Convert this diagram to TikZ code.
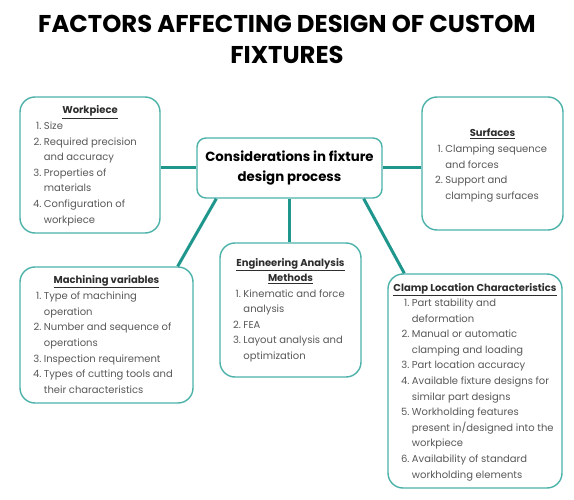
\documentclass[tikz,border=0pt]{standalone}
\usepackage{fontspec}
\setmainfont{Poppins}
\usetikzlibrary{positioning}

\definecolor{tealline}{HTML}{1F968C}
\definecolor{tealbox}{HTML}{4CB2A9}
\definecolor{bodygray}{HTML}{595959}
\definecolor{headgray}{HTML}{2E2E2E}

% box text: width, height, top skip, heading, list rows
\newcommand{\boxtext}[5]{\parbox[c][#2][t]{#1}{%
	\fontsize{10}{15.6}\selectfont\centering\bfseries\color{headgray}%
	\rule{0pt}{#3}#4\par
	\raggedright\mdseries\color{bodygray}%
	\hspace*{13pt}\begin{tabular}[t]{@{}r@{\hspace{2.5pt}}l@{}}#5\end{tabular}\par}}

\begin{document}
\begin{tikzpicture}[x=1pt, y=-1pt,
		box/.style={draw=tealbox, line width=1.4pt, rounded corners=15pt, inner sep=0pt, fill=white},
		mainbox/.style={draw=tealbox, line width=1.4pt, rounded corners=9pt, inner sep=0pt,
			minimum width=185pt, minimum height=60pt, align=center, fill=white},
		link/.style={draw=tealline, line width=3pt}]
	\useasboundingbox (0,0) rectangle (574,500);

	\node[align=center, font=\fontsize{24.3}{31}\selectfont\bfseries] (title) at (287,39)
		{FACTORS AFFECTING DESIGN OF CUSTOM\\FIXTURES};

	\node[mainbox, font=\fontsize{13.3}{20}\selectfont\bfseries] (design) at (289.5,168)
		{Considerations in fixture\\design process};

	\node[box] (work) at (90,165) {\boxtext{140pt}{136pt}{17pt}{\underline{Workpiece}}{%
		1.&Size\\
		2.&Required precision\\
		&and accuracy\\
		3.&Properties of\\
		&materials\\
		4.&Configuration of\\
		&workpiece}};

	\node[box] (surf) at (492.5,163.5) {\boxtext{141pt}{133pt}{40pt}{\underline{Surfaces}}{%
		1.&Clamping sequence\\
		&and forces\\
		2.&Support and\\
		&clamping surfaces}};

	\node[box] (mach) at (106.5,335) {\boxtext{173pt}{136pt}{16pt}{\underline{Machining variables}}{%
		1.&Type of machining\\
		&operation\\
		2.&Number and sequence of\\
		&operations\\
		3.&Inspection requirement\\
		4.&Types of cutting tools and\\
		&their characteristics}};

	\node[box] (eng) at (290.5,310) {\boxtext{141pt}{134pt}{23pt}{\underline{Engineering Analysis}\\\underline{Methods}}{%
		1.&Kinematic and force\\
		&analysis\\
		2.&FEA\\
		3.&Layout analysis and\\
		&optimization}};

	\node[box] (clamp) at (475,381) {\boxtext{174pt}{214pt}{17pt}{\underline{Clamp Location Characteristics}}{%
		1.&Part stability and\\
		&deformation\\
		2.&Manual or automatic\\
		&clamping and loading\\
		3.&Part location accuracy\\
		4.&Available fixture designs for\\
		&similar part designs\\
		5.&Workholding features\\
		&present in/designed into the\\
		&workpiece\\
		6.&Availability of standard\\
		&workholding elements}};

	% connectors
	\path[link] (design.west -| work.east) -- (design.west);
	\path[link] (design.east) -- (design.east -| surf.west);
	\path[link] ([xshift=20pt]design.south west) -- ([xshift=-16pt]mach.north east);
	\path[link] (design.south) -- (design.south |- eng.north);
	\path[link] ([xshift=-19pt]design.south east) -- ([xshift=17pt]clamp.north west);
\end{tikzpicture}
\end{document}
